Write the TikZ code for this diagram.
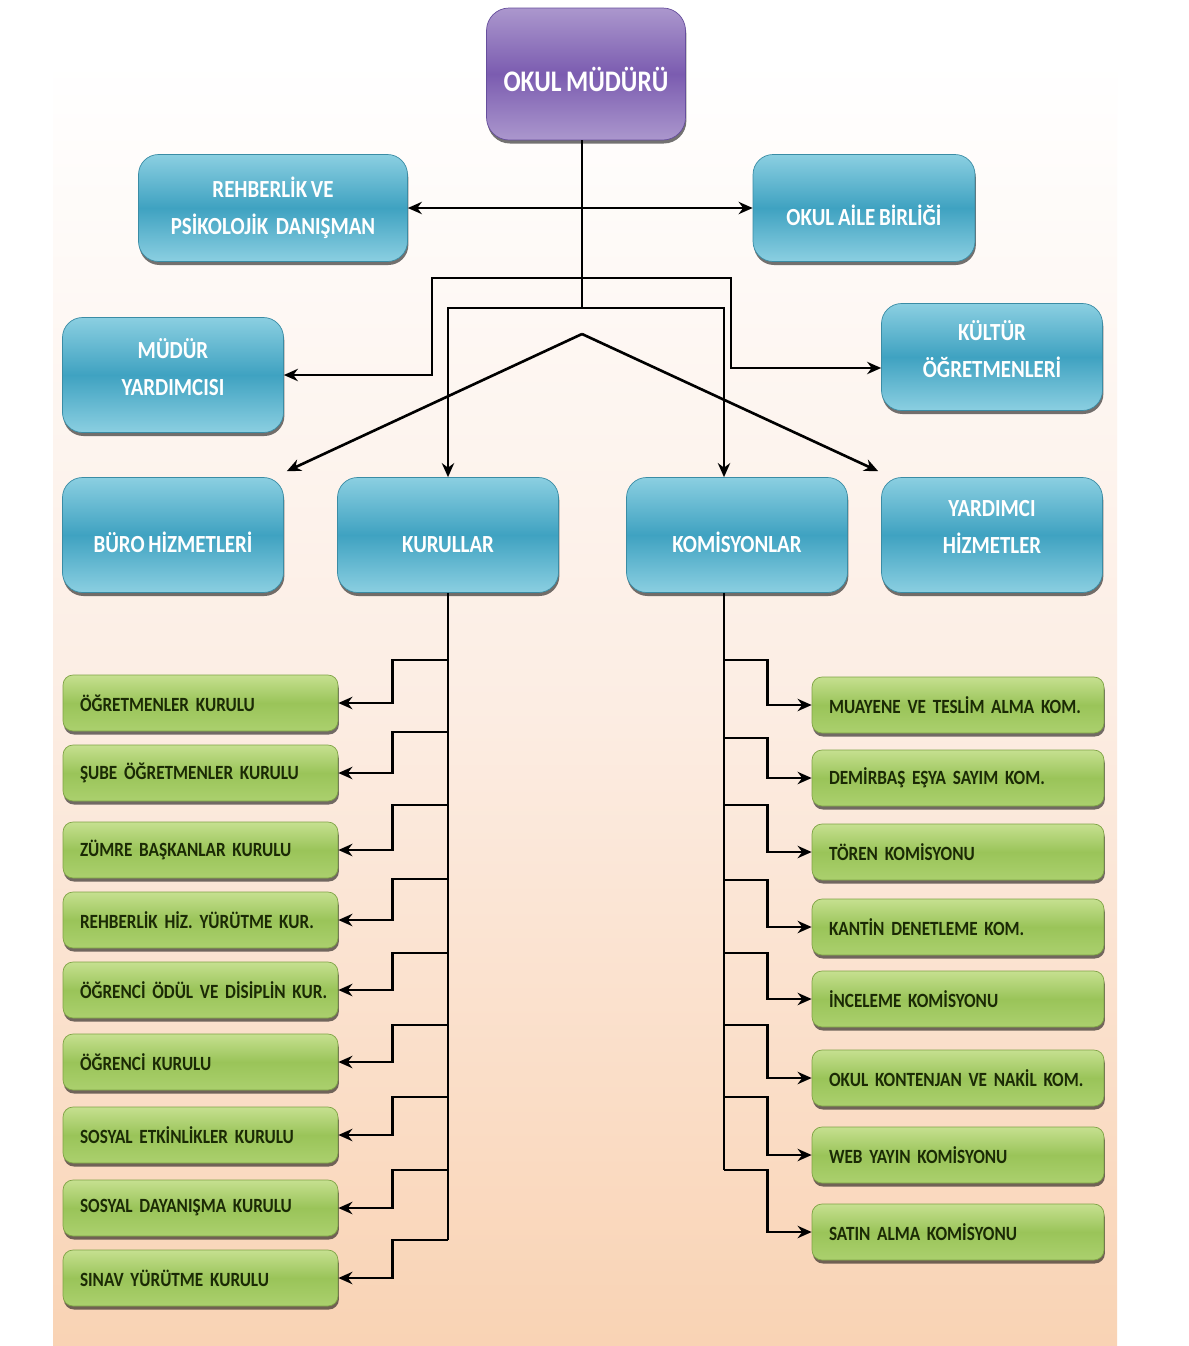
\documentclass[tikz,border=0pt]{standalone}
\usepackage{fontspec}
\setmainfont{Carlito}
\newfontfamily\boxfont[FakeStretch=0.85,WordSpace=0.8]{Carlito}
\usetikzlibrary{shadows,arrows.meta}

\definecolor{bluetop}{HTML}{8BCFE1}
\definecolor{bluemid}{HTML}{3FA2C1}
\definecolor{blueedge}{HTML}{3A8CA5}
\definecolor{greentop}{HTML}{C6E090}
\definecolor{greenmid}{HTML}{9AC459}
\definecolor{greenbot}{HTML}{ABD06E}
\definecolor{greenedge}{HTML}{7FA345}
\definecolor{purptop}{HTML}{AB97CD}
\definecolor{purpmid}{HTML}{7B5CB0}
\definecolor{purpedge}{HTML}{664E9C}
\definecolor{greentext}{HTML}{1B2A05}
\definecolor{peach}{HTML}{F9D3B4}
\definecolor{peachmid}{HTML}{FCEDE3}

\tikzset{
  bluebox/.style={draw=blueedge,rounded corners=0.4cm,top color=bluetop,bottom color=bluetop,middle color=bluemid,
    text=white,align=center,font=\boxfont\bfseries\fontsize{14}{21}\selectfont,
    minimum width=4.42cm,minimum height=2.3cm,
    drop shadow={shadow xshift=0.5pt,shadow yshift=-2pt,opacity=0.55,fill=black}},
  onerow/.style={text height=0.72cm},
  tworow/.style={text depth=0.32cm},
  greenbox/.style={draw=greenedge,rounded corners=0.2cm,top color=greentop,bottom color=greenbot,middle color=greenmid,
    text=greentext,align=left,font=\boxfont\bfseries\fontsize{11.5}{14}\selectfont,
    inner xsep=0.2cm,minimum height=1.12cm,
    drop shadow={shadow xshift=0.5pt,shadow yshift=-2pt,opacity=0.55,fill=black}},
  lgreen/.style={greenbox,text width=5.1cm},
  rgreen/.style={greenbox,text width=5.44cm},
  line/.style={draw=black,line width=1.5pt},
  arw/.style={line,-{Stealth[length=8pt,width=7pt]}},
  dbl/.style={line,{Stealth[length=8pt,width=7pt]}-{Stealth[length=8pt,width=7pt]}},
}

\begin{document}
\begin{tikzpicture}[x=0.02cm,y=-0.02cm]

    \useasboundingbox (0,0) rectangle (1188,1346);
    \fill[white] (0,0) rectangle (1188,1346);
    \fill[top color=white,bottom color=peach,middle color=peachmid] (53,60) rectangle (1117,1346);

    % top
    \node[bluebox,onerow,draw=purpedge,top color=purptop,bottom color=purptop,middle color=purpmid,rounded corners=0.45cm,
      minimum width=3.98cm,minimum height=2.64cm,font=\boxfont\bfseries\fontsize{17}{21}\selectfont] (okul) at (586,74) {OKUL MÜDÜRÜ};
    \node[bluebox,minimum width=5.38cm,minimum height=2.14cm] (rehber) at (273,208) {REHBERLİK VE\\PSİKOLOJİK\ \ DANIŞMAN};
    \node[bluebox,onerow,minimum width=4.44cm,minimum height=2.14cm] (aile) at (864,208) {OKUL AİLE BİRLİĞİ};
    \node[bluebox,tworow] (mudyrd) at (173,375) {MÜDÜR\\YARDIMCISI};
    \node[bluebox,tworow,minimum height=2.14cm] (kultur) at (992,357) {KÜLTÜR\\ÖĞRETMENLERİ};
    \node[bluebox,onerow] (buro) at (173,535) {BÜRO HİZMETLERİ};
    \node[bluebox,onerow] (kurullar) at (448,535) {KURULLAR};
    \node[bluebox,onerow] (komis) at (737,535) {KOMİSYONLAR};
    \node[bluebox,tworow] (yrdhiz) at (992,535) {YARDIMCI\\HİZMETLER};

    \coordinate (hubu) at (582,278);
    \coordinate (hubc) at (582,308);
    \coordinate (ul) at (432,278);
    \coordinate (ur) at (731,278);
    \coordinate (kl) at (448,308);
    \coordinate (kr) at (724,308);
    \coordinate (peak) at (582,334);

    \draw[line] (okul.south -| hubc) -- (hubc);
    \draw[dbl] (rehber.east) -- (aile.west);
    \draw[arw] (hubu) -- (ul) |- (mudyrd.east);
    \draw[arw] (hubu) -- (ur) |- ([yshift=-0.22cm]kultur.west);
    \draw[arw] (hubc) -- (kl) -- (kurullar.north);
    \draw[arw] (hubc) -- (kr) -- (kr |- komis.north);
    \draw[arw] (peak) -- ([shift={(0.06cm,0.12cm)}]buro.north east);
    \draw[arw] (peak) -- ([shift={(-0.06cm,0.12cm)}]yrdhiz.north west);

    % kurullar
    \foreach \n/\y/\b/\t in {1/703/660/ÖĞRETMENLER KURULU,2/773/732/ŞUBE ÖĞRETMENLER KURULU,
      3/850/805/ZÜMRE BAŞKANLAR KURULU,4/920/879/REHBERLİK HİZ. YÜRÜTME KUR.,
      5/990/953/ÖĞRENCİ ÖDÜL VE DİSİPLİN KUR.,6/1062/1025/ÖĞRENCİ KURULU,
      7/1135/1097/SOSYAL ETKİNLİKLER KURULU,8/1208/1170/SOSYAL DAYANIŞMA KURULU,
      9/1278/1240/SINAV YÜRÜTME KURULU}{
        \node[lgreen] (k\n) at (200.5,\y) {\hspace*{0.14cm}\t};
        \coordinate (kb\n) at (448,\b);
        \draw[arw] (kb\n) -| ([xshift=1.08cm]k\n.east) -- (k\n.east);
    }
    \draw[line] (kurullar.south) -- (kb9);

    % komisyonlar
    \foreach \n/\y/\b/\t in {1/705/660/MUAYENE VE TESLİM ALMA KOM.,2/778/738/DEMİRBAŞ EŞYA SAYIM KOM.,
      3/852/805/TÖREN KOMİSYONU,4/927/880/KANTİN DENETLEME KOM.,
      5/999/953/İNCELEME KOMİSYONU,6/1078/1025/OKUL KONTENJAN VE NAKİL KOM.,
      7/1155/1097/WEB YAYIN KOMİSYONU,8/1232/1170/SATIN ALMA KOMİSYONU}{
        \node[rgreen] (r\n) at (958,\y) {\hspace*{0.14cm}\t};
        \coordinate (rb\n) at (724,\b);
        \draw[arw] (rb\n) -| ([xshift=-0.88cm]r\n.west) -- (r\n.west);
    }
    \draw[line] (komis.south -| rb1) -- (rb8);

\end{tikzpicture}
\end{document}
